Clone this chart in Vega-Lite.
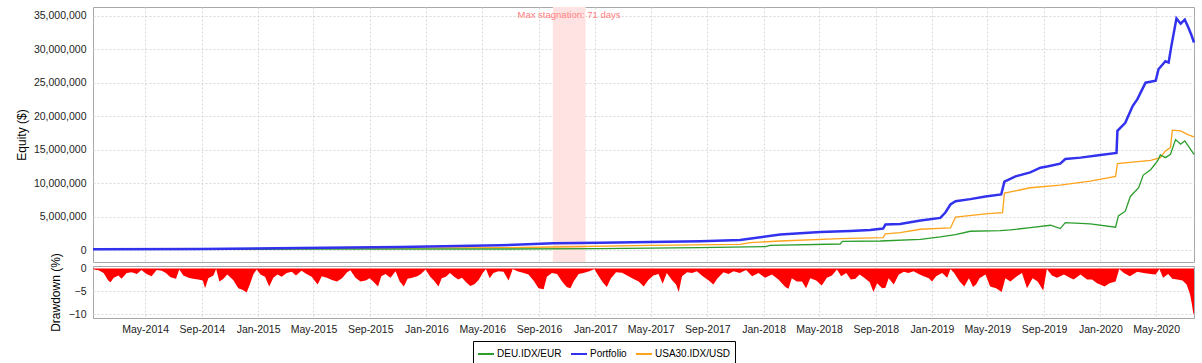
{
"$schema": "https://vega.github.io/schema/vega-lite/v6.json",
"padding": {"left": 14, "top": 6, "right": 8, "bottom": 2},
"bounds": "flush",
"spacing": 4,
"background": "white",
"config": {
 "font": "Liberation Sans",
 "view": {"stroke": "#a8a8a8", "strokeWidth": 1},
 "axis": {"labelFont": "Liberation Sans", "labelFontSize": 10.5, "labelColor": "#222222", "titleFont": "Liberation Sans", "titleFontSize": 12, "titleFontWeight": "normal", "titleColor": "#000000", "gridColor": "#d8d8d8", "gridDash": [2, 2], "domain": false, "ticks": false},
 "legend": {"orient": "none", "legendX": 380, "legendY": 334, "direction": "horizontal", "strokeColor": "#000000", "padding": 4, "symbolType": "stroke", "symbolSize": 256, "symbolStrokeWidth": 2, "labelFont": "Liberation Sans", "labelFontSize": 10, "labelColor": "#000000", "columnPadding": 5, "labelOffset": 2}
},
"datasets": {
 "stag": [{"start": "2016-10-01", "end": "2016-12-11", "mid": "2016-11-05", "label": "Max stagnation: 71 days"}],
 "equity": [
  {"date":"2014-01-08","series":"Portfolio","equity":100000},
  {"date":"2014-08-28","series":"Portfolio","equity":150000},
  {"date":"2015-04-02","series":"Portfolio","equity":300000},
  {"date":"2015-11-05","series":"Portfolio","equity":450000},
  {"date":"2016-06-09","series":"Portfolio","equity":700000},
  {"date":"2016-10-02","series":"Portfolio","equity":1000000},
  {"date":"2017-01-12","series":"Portfolio","equity":1100000},
  {"date":"2017-04-30","series":"Portfolio","equity":1200000},
  {"date":"2017-08-17","series":"Portfolio","equity":1300000},
  {"date":"2017-11-11","series":"Portfolio","equity":1500000},
  {"date":"2017-12-25","series":"Portfolio","equity":1900000},
  {"date":"2018-02-06","series":"Portfolio","equity":2300000},
  {"date":"2018-03-21","series":"Portfolio","equity":2500000},
  {"date":"2018-05-04","series":"Portfolio","equity":2700000},
  {"date":"2018-07-08","series":"Portfolio","equity":2850000},
  {"date":"2018-08-20","series":"Portfolio","equity":3000000},
  {"date":"2018-09-17","series":"Portfolio","equity":3200000},
  {"date":"2018-09-22","series":"Portfolio","equity":3800000},
  {"date":"2018-10-24","series":"Portfolio","equity":3900000},
  {"date":"2018-12-07","series":"Portfolio","equity":4400000},
  {"date":"2019-01-19","series":"Portfolio","equity":4800000},
  {"date":"2019-01-30","series":"Portfolio","equity":5600000},
  {"date":"2019-02-10","series":"Portfolio","equity":6800000},
  {"date":"2019-02-21","series":"Portfolio","equity":7300000},
  {"date":"2019-03-25","series":"Portfolio","equity":7600000},
  {"date":"2019-04-27","series":"Portfolio","equity":8000000},
  {"date":"2019-05-31","series":"Portfolio","equity":8300000},
  {"date":"2019-06-07","series":"Portfolio","equity":10200000},
  {"date":"2019-07-01","series":"Portfolio","equity":11000000},
  {"date":"2019-08-02","series":"Portfolio","equity":11600000},
  {"date":"2019-08-24","series":"Portfolio","equity":12300000},
  {"date":"2019-09-10","series":"Portfolio","equity":12500000},
  {"date":"2019-10-06","series":"Portfolio","equity":12900000},
  {"date":"2019-10-17","series":"Portfolio","equity":13600000},
  {"date":"2019-11-19","series":"Portfolio","equity":13800000},
  {"date":"2020-01-01","series":"Portfolio","equity":14200000},
  {"date":"2020-02-05","series":"Portfolio","equity":14500000},
  {"date":"2020-02-07","series":"Portfolio","equity":17800000},
  {"date":"2020-02-24","series":"Portfolio","equity":19000000},
  {"date":"2020-03-11","series":"Portfolio","equity":21500000},
  {"date":"2020-03-21","series":"Portfolio","equity":22500000},
  {"date":"2020-04-08","series":"Portfolio","equity":25000000},
  {"date":"2020-04-30","series":"Portfolio","equity":25300000},
  {"date":"2020-05-06","series":"Portfolio","equity":27000000},
  {"date":"2020-05-21","series":"Portfolio","equity":28200000},
  {"date":"2020-05-28","series":"Portfolio","equity":28000000},
  {"date":"2020-06-03","series":"Portfolio","equity":30500000},
  {"date":"2020-06-14","series":"Portfolio","equity":34600000},
  {"date":"2020-06-23","series":"Portfolio","equity":33800000},
  {"date":"2020-07-02","series":"Portfolio","equity":34400000},
  {"date":"2020-07-10","series":"Portfolio","equity":33200000},
  {"date":"2020-07-17","series":"Portfolio","equity":32000000},
  {"date":"2020-07-22","series":"Portfolio","equity":31000000},
  {"date":"2014-01-08","series":"USA30.IDX/USD","equity":100000},
  {"date":"2015-04-02","series":"USA30.IDX/USD","equity":200000},
  {"date":"2016-06-09","series":"USA30.IDX/USD","equity":350000},
  {"date":"2016-10-02","series":"USA30.IDX/USD","equity":450000},
  {"date":"2017-04-30","series":"USA30.IDX/USD","equity":700000},
  {"date":"2017-11-11","series":"USA30.IDX/USD","equity":850000},
  {"date":"2017-12-03","series":"USA30.IDX/USD","equity":1100000},
  {"date":"2018-02-06","series":"USA30.IDX/USD","equity":1350000},
  {"date":"2018-06-16","series":"USA30.IDX/USD","equity":1700000},
  {"date":"2018-09-17","series":"USA30.IDX/USD","equity":1850000},
  {"date":"2018-09-22","series":"USA30.IDX/USD","equity":2400000},
  {"date":"2018-10-24","series":"USA30.IDX/USD","equity":2600000},
  {"date":"2018-12-07","series":"USA30.IDX/USD","equity":3100000},
  {"date":"2019-02-10","series":"USA30.IDX/USD","equity":3300000},
  {"date":"2019-02-21","series":"USA30.IDX/USD","equity":4900000},
  {"date":"2019-04-27","series":"USA30.IDX/USD","equity":5400000},
  {"date":"2019-06-03","series":"USA30.IDX/USD","equity":5600000},
  {"date":"2019-06-07","series":"USA30.IDX/USD","equity":8500000},
  {"date":"2019-08-02","series":"USA30.IDX/USD","equity":9300000},
  {"date":"2019-10-06","series":"USA30.IDX/USD","equity":9700000},
  {"date":"2019-12-10","series":"USA30.IDX/USD","equity":10300000},
  {"date":"2020-02-03","series":"USA30.IDX/USD","equity":11000000},
  {"date":"2020-02-07","series":"USA30.IDX/USD","equity":12900000},
  {"date":"2020-04-19","series":"USA30.IDX/USD","equity":13400000},
  {"date":"2020-05-10","series":"USA30.IDX/USD","equity":13800000},
  {"date":"2020-05-21","series":"USA30.IDX/USD","equity":14800000},
  {"date":"2020-06-01","series":"USA30.IDX/USD","equity":15300000},
  {"date":"2020-06-05","series":"USA30.IDX/USD","equity":17900000},
  {"date":"2020-06-23","series":"USA30.IDX/USD","equity":17800000},
  {"date":"2020-07-10","series":"USA30.IDX/USD","equity":17200000},
  {"date":"2020-07-22","series":"USA30.IDX/USD","equity":16900000},
  {"date":"2014-01-08","series":"DEU.IDX/EUR","equity":100000},
  {"date":"2015-04-02","series":"DEU.IDX/EUR","equity":120000},
  {"date":"2016-06-09","series":"DEU.IDX/EUR","equity":150000},
  {"date":"2017-01-12","series":"DEU.IDX/EUR","equity":200000},
  {"date":"2017-08-17","series":"DEU.IDX/EUR","equity":350000},
  {"date":"2018-01-05","series":"DEU.IDX/EUR","equity":500000},
  {"date":"2018-01-15","series":"DEU.IDX/EUR","equity":700000},
  {"date":"2018-06-16","series":"DEU.IDX/EUR","equity":900000},
  {"date":"2018-06-21","series":"DEU.IDX/EUR","equity":1300000},
  {"date":"2018-09-11","series":"DEU.IDX/EUR","equity":1350000},
  {"date":"2018-12-07","series":"DEU.IDX/EUR","equity":1600000},
  {"date":"2019-01-19","series":"DEU.IDX/EUR","equity":1950000},
  {"date":"2019-02-21","series":"DEU.IDX/EUR","equity":2300000},
  {"date":"2019-03-25","series":"DEU.IDX/EUR","equity":2800000},
  {"date":"2019-05-29","series":"DEU.IDX/EUR","equity":2900000},
  {"date":"2019-06-20","series":"DEU.IDX/EUR","equity":3000000},
  {"date":"2019-08-02","series":"DEU.IDX/EUR","equity":3350000},
  {"date":"2019-09-15","series":"DEU.IDX/EUR","equity":3700000},
  {"date":"2019-10-06","series":"DEU.IDX/EUR","equity":3200000},
  {"date":"2019-10-17","series":"DEU.IDX/EUR","equity":4100000},
  {"date":"2019-12-10","series":"DEU.IDX/EUR","equity":3900000},
  {"date":"2020-02-03","series":"DEU.IDX/EUR","equity":3400000},
  {"date":"2020-02-09","series":"DEU.IDX/EUR","equity":5100000},
  {"date":"2020-02-24","series":"DEU.IDX/EUR","equity":5800000},
  {"date":"2020-03-06","series":"DEU.IDX/EUR","equity":8000000},
  {"date":"2020-03-24","series":"DEU.IDX/EUR","equity":9300000},
  {"date":"2020-04-03","series":"DEU.IDX/EUR","equity":11200000},
  {"date":"2020-04-19","series":"DEU.IDX/EUR","equity":12000000},
  {"date":"2020-05-04","series":"DEU.IDX/EUR","equity":13300000},
  {"date":"2020-05-10","series":"DEU.IDX/EUR","equity":14200000},
  {"date":"2020-05-21","series":"DEU.IDX/EUR","equity":13800000},
  {"date":"2020-06-01","series":"DEU.IDX/EUR","equity":14300000},
  {"date":"2020-06-12","series":"DEU.IDX/EUR","equity":16500000},
  {"date":"2020-06-23","series":"DEU.IDX/EUR","equity":15800000},
  {"date":"2020-07-02","series":"DEU.IDX/EUR","equity":16300000},
  {"date":"2020-07-15","series":"DEU.IDX/EUR","equity":15000000},
  {"date":"2020-07-22","series":"DEU.IDX/EUR","equity":14300000}
 ],
 "dd": [
  {"date":"2014-01-08","dd":0},{"date":"2014-01-10","dd":-0.2},{"date":"2014-01-20","dd":-0.4},{"date":"2014-01-31","dd":-1.0},
  {"date":"2014-02-10","dd":-2.6},{"date":"2014-02-15","dd":-3.0},{"date":"2014-02-22","dd":-2.0},{"date":"2014-03-04","dd":-1.5},
  {"date":"2014-03-11","dd":-2.2},{"date":"2014-03-22","dd":-1.0},{"date":"2014-04-02","dd":-0.8},{"date":"2014-04-13","dd":-1.2},
  {"date":"2014-04-23","dd":-0.3},{"date":"2014-05-04","dd":-1.2},{"date":"2014-05-15","dd":-1.7},{"date":"2014-05-26","dd":-0.3},
  {"date":"2014-06-06","dd":-0.5},{"date":"2014-06-15","dd":-1.0},{"date":"2014-06-25","dd":-1.9},{"date":"2014-07-07","dd":-2.2},
  {"date":"2014-07-14","dd":-0.2},{"date":"2014-07-23","dd":-1.5},{"date":"2014-08-03","dd":-2.0},{"date":"2014-08-13","dd":-2.2},
  {"date":"2014-08-24","dd":-2.4},{"date":"2014-09-03","dd":-2.6},{"date":"2014-09-08","dd":-4.3},{"date":"2014-09-15","dd":-2.1},
  {"date":"2014-09-26","dd":-1.5},{"date":"2014-10-02","dd":-0.1},{"date":"2014-10-09","dd":-2.8},{"date":"2014-10-18","dd":-2.2},
  {"date":"2014-10-26","dd":-1.3},{"date":"2014-11-08","dd":-2.5},{"date":"2014-11-19","dd":-4.3},{"date":"2014-11-28","dd":-4.6},
  {"date":"2014-12-07","dd":-5.2},{"date":"2014-12-14","dd":-3.5},{"date":"2014-12-22","dd":-1.2},{"date":"2014-12-29","dd":-0.2},
  {"date":"2015-01-06","dd":-1.3},{"date":"2015-01-16","dd":-1.8},{"date":"2015-01-25","dd":-3.9},{"date":"2015-02-03","dd":-2.0},
  {"date":"2015-02-12","dd":-1.3},{"date":"2015-02-21","dd":-1.8},{"date":"2015-03-04","dd":-1.0},{"date":"2015-03-15","dd":-0.7},
  {"date":"2015-03-24","dd":-1.5},{"date":"2015-04-05","dd":-0.5},{"date":"2015-04-16","dd":-1.2},{"date":"2015-04-27","dd":-1.8},
  {"date":"2015-05-10","dd":-3.5},{"date":"2015-05-19","dd":-1.7},{"date":"2015-05-30","dd":-2.0},{"date":"2015-06-10","dd":-2.5},
  {"date":"2015-06-21","dd":-2.8},{"date":"2015-07-02","dd":-2.1},{"date":"2015-07-13","dd":-0.8},{"date":"2015-07-20","dd":-0.4},
  {"date":"2015-07-31","dd":-2.0},{"date":"2015-08-11","dd":-2.8},{"date":"2015-08-22","dd":-2.6},{"date":"2015-08-31","dd":-2.1},
  {"date":"2015-09-09","dd":-3.0},{"date":"2015-09-18","dd":-3.9},{"date":"2015-09-25","dd":-1.7},{"date":"2015-10-04","dd":-1.2},
  {"date":"2015-10-15","dd":-2.0},{"date":"2015-10-26","dd":-0.6},{"date":"2015-11-04","dd":-2.8},{"date":"2015-11-13","dd":-3.9},
  {"date":"2015-11-21","dd":-2.2},{"date":"2015-12-01","dd":-2.0},{"date":"2015-12-12","dd":-1.7},{"date":"2015-12-20","dd":-1.2},
  {"date":"2015-12-30","dd":-0.2},{"date":"2016-01-09","dd":-1.8},{"date":"2016-01-17","dd":-2.6},{"date":"2016-01-27","dd":-3.9},
  {"date":"2016-02-03","dd":-2.1},{"date":"2016-02-12","dd":-1.8},{"date":"2016-02-21","dd":-1.0},{"date":"2016-03-01","dd":-1.8},
  {"date":"2016-03-10","dd":-2.4},{"date":"2016-03-18","dd":-2.0},{"date":"2016-03-27","dd":-3.0},{"date":"2016-04-05","dd":-3.8},
  {"date":"2016-04-14","dd":-3.4},{"date":"2016-04-23","dd":-2.5},{"date":"2016-05-02","dd":-1.0},{"date":"2016-05-09","dd":-0.1},
  {"date":"2016-05-17","dd":-2.1},{"date":"2016-05-25","dd":-1.0},{"date":"2016-06-05","dd":-0.6},{"date":"2016-06-16","dd":-0.7},
  {"date":"2016-06-27","dd":-2.6},{"date":"2016-07-06","dd":-0.1},{"date":"2016-07-16","dd":-0.6},{"date":"2016-07-28","dd":-0.9},
  {"date":"2016-08-09","dd":-1.3},{"date":"2016-08-20","dd":-2.6},{"date":"2016-08-31","dd":-4.3},{"date":"2016-09-11","dd":-4.5},
  {"date":"2016-09-18","dd":-1.8},{"date":"2016-09-29","dd":-1.0},{"date":"2016-10-10","dd":-1.2},{"date":"2016-10-21","dd":-2.8},
  {"date":"2016-10-31","dd":-4.0},{"date":"2016-11-08","dd":-4.3},{"date":"2016-11-15","dd":-2.8},{"date":"2016-11-26","dd":-1.2},
  {"date":"2016-12-06","dd":-1.0},{"date":"2016-12-19","dd":-0.6},{"date":"2016-12-30","dd":-0.1},{"date":"2017-01-06","dd":-1.3},
  {"date":"2017-01-17","dd":-3.0},{"date":"2017-01-26","dd":-4.0},{"date":"2017-02-04","dd":-2.1},{"date":"2017-02-15","dd":-0.8},
  {"date":"2017-02-28","dd":-0.9},{"date":"2017-03-14","dd":-1.7},{"date":"2017-03-25","dd":-2.3},{"date":"2017-04-05","dd":-2.8},
  {"date":"2017-04-16","dd":-3.9},{"date":"2017-04-26","dd":-2.5},{"date":"2017-05-07","dd":-1.5},{"date":"2017-05-18","dd":-1.2},
  {"date":"2017-05-27","dd":-3.3},{"date":"2017-06-05","dd":-1.0},{"date":"2017-06-16","dd":-2.5},{"date":"2017-06-25","dd":-3.5},
  {"date":"2017-07-01","dd":-5.1},{"date":"2017-07-08","dd":-1.7},{"date":"2017-07-19","dd":-0.8},{"date":"2017-07-30","dd":-1.0},
  {"date":"2017-08-09","dd":-0.6},{"date":"2017-08-22","dd":-1.7},{"date":"2017-09-04","dd":-2.6},{"date":"2017-09-14","dd":-3.5},
  {"date":"2017-09-23","dd":-2.1},{"date":"2017-10-06","dd":-0.8},{"date":"2017-10-17","dd":-1.2},{"date":"2017-10-28","dd":-0.6},
  {"date":"2017-11-10","dd":-1.0},{"date":"2017-11-24","dd":-0.3},{"date":"2017-12-07","dd":-1.7},{"date":"2017-12-21","dd":-1.0},
  {"date":"2018-01-04","dd":-2.0},{"date":"2018-01-19","dd":-1.3},{"date":"2018-02-02","dd":-2.4},{"date":"2018-02-17","dd":-4.0},
  {"date":"2018-02-24","dd":-4.4},{"date":"2018-03-03","dd":-2.1},{"date":"2018-03-14","dd":-2.8},{"date":"2018-03-25","dd":-2.8},
  {"date":"2018-04-03","dd":-4.3},{"date":"2018-04-12","dd":-2.1},{"date":"2018-04-25","dd":-2.6},{"date":"2018-05-07","dd":-3.7},
  {"date":"2018-05-18","dd":-2.0},{"date":"2018-05-29","dd":-1.5},{"date":"2018-06-09","dd":-0.2},{"date":"2018-06-18","dd":-1.7},
  {"date":"2018-06-29","dd":-1.0},{"date":"2018-07-09","dd":-2.4},{"date":"2018-07-19","dd":-2.2},{"date":"2018-07-28","dd":-1.3},
  {"date":"2018-08-07","dd":-2.0},{"date":"2018-08-19","dd":-3.0},{"date":"2018-08-27","dd":-5.1},{"date":"2018-09-04","dd":-3.2},
  {"date":"2018-09-15","dd":-4.3},{"date":"2018-09-22","dd":-4.2},{"date":"2018-09-29","dd":-2.1},{"date":"2018-10-10","dd":-3.5},
  {"date":"2018-10-21","dd":-1.3},{"date":"2018-11-01","dd":-0.7},{"date":"2018-11-11","dd":-1.0},{"date":"2018-11-22","dd":-0.6},
  {"date":"2018-12-03","dd":-1.2},{"date":"2018-12-14","dd":-1.7},{"date":"2018-12-25","dd":-2.1},{"date":"2019-01-01","dd":-2.8},
  {"date":"2019-01-10","dd":-1.7},{"date":"2019-01-23","dd":-1.0},{"date":"2019-02-03","dd":-2.0},{"date":"2019-02-10","dd":-0.1},
  {"date":"2019-02-18","dd":-1.0},{"date":"2019-03-02","dd":-2.8},{"date":"2019-03-12","dd":-3.9},{"date":"2019-03-22","dd":-2.1},
  {"date":"2019-03-31","dd":-4.0},{"date":"2019-04-07","dd":-3.4},{"date":"2019-04-14","dd":-2.1},{"date":"2019-04-27","dd":-1.3},
  {"date":"2019-05-07","dd":-3.9},{"date":"2019-05-20","dd":-4.3},{"date":"2019-06-01","dd":-5.1},{"date":"2019-06-09","dd":-2.1},
  {"date":"2019-06-20","dd":-2.8},{"date":"2019-07-04","dd":-1.7},{"date":"2019-07-15","dd":-1.0},{"date":"2019-07-26","dd":-4.3},
  {"date":"2019-08-07","dd":-2.1},{"date":"2019-08-18","dd":-2.8},{"date":"2019-08-30","dd":-4.8},{"date":"2019-09-07","dd":-0.1},
  {"date":"2019-09-18","dd":-1.5},{"date":"2019-09-29","dd":-2.0},{"date":"2019-10-14","dd":-1.3},{"date":"2019-10-27","dd":-2.0},
  {"date":"2019-11-04","dd":-2.4},{"date":"2019-11-19","dd":-1.3},{"date":"2019-12-03","dd":-2.4},{"date":"2019-12-14","dd":-2.4},
  {"date":"2019-12-25","dd":-3.2},{"date":"2020-01-10","dd":-3.9},{"date":"2020-01-21","dd":-3.2},{"date":"2020-02-03","dd":-2.8},
  {"date":"2020-02-11","dd":-0.1},{"date":"2020-02-21","dd":-1.0},{"date":"2020-03-05","dd":-1.7},{"date":"2020-03-21","dd":-0.7},
  {"date":"2020-04-04","dd":-1.0},{"date":"2020-04-19","dd":-1.2},{"date":"2020-04-30","dd":-1.3},{"date":"2020-05-08","dd":-0.1},
  {"date":"2020-05-16","dd":-2.0},{"date":"2020-05-27","dd":-1.2},{"date":"2020-06-05","dd":-2.2},{"date":"2020-06-16","dd":-2.4},
  {"date":"2020-06-27","dd":-2.6},{"date":"2020-07-06","dd":-3.5},{"date":"2020-07-13","dd":-5.5},{"date":"2020-07-17","dd":-7.5},
  {"date":"2020-07-20","dd":-9.5},{"date":"2020-07-22","dd":-10.1}
 ]
},
"vconcat": [
 {
  "width": 1101,
  "height": 255,
  "layer": [
   {
    "data": {"name": "stag"},
    "mark": {"type": "rect", "color": "#ffe3e3", "opacity": 1},
    "encoding": {
     "x": {"field": "start", "type": "temporal", "scale": {"domain": [{"year": 2014, "month": 1, "date": 8}, {"year": 2020, "month": 7, "date": 22}], "nice": false}, "axis": {"title": null, "labels": false, "grid": true, "tickCount": {"interval": "month", "step": 4}}},
     "x2": {"field": "end"}
    }
   },
   {
    "data": {"name": "stag"},
    "mark": {"type": "text", "color": "#ff8080", "font": "Liberation Sans", "fontSize": 9.5, "baseline": "middle", "align": "center"},
    "encoding": {
     "x": {"field": "mid", "type": "temporal"},
     "y": {"datum": 35100000, "type": "quantitative", "scale": {"domain": [-1790000, 36300000], "nice": false, "zero": false}, "axis": {"title": "Equity ($)", "values": [0, 5000000, 10000000, 15000000, 20000000, 25000000, 30000000, 35000000], "labelExpr": "format(datum.value, ',.0f')", "grid": true, "labelPadding": 7, "titlePadding": 5}},
     "text": {"field": "label"}
    }
   },
   {
    "data": {"name": "equity"},
    "transform": [{"filter": "datum.series != 'Portfolio'"}],
    "mark": {"type": "line", "strokeWidth": 1.3},
    "encoding": {
     "x": {"field": "date", "type": "temporal"},
     "y": {"field": "equity", "type": "quantitative", "scale": {"domain": [-1790000, 36300000], "nice": false, "zero": false}, "axis": {"title": "Equity ($)", "values": [0, 5000000, 10000000, 15000000, 20000000, 25000000, 30000000, 35000000], "labelExpr": "format(datum.value, ',.0f')", "grid": true, "labelPadding": 7, "titlePadding": 5}},
     "color": {"field": "series", "type": "nominal", "scale": {"domain": ["DEU.IDX/EUR", "Portfolio", "USA30.IDX/USD"], "range": ["#2a9d2a", "#3232ee", "#ffa31a"]}, "legend": {"title": null}}
    }
   },
   {
    "data": {"name": "equity"},
    "transform": [{"filter": "datum.series == 'Portfolio'"}],
    "mark": {"type": "line", "strokeWidth": 2.5},
    "encoding": {
     "x": {"field": "date", "type": "temporal"},
     "y": {"field": "equity", "type": "quantitative", "scale": {"domain": [-1790000, 36300000], "nice": false, "zero": false}, "axis": {"title": "Equity ($)", "values": [0, 5000000, 10000000, 15000000, 20000000, 25000000, 30000000, 35000000], "labelExpr": "format(datum.value, ',.0f')", "grid": true, "labelPadding": 7, "titlePadding": 5}},
     "color": {"field": "series", "type": "nominal"}
    }
   }
  ]
 },
 {
  "width": 1101,
  "height": 52,
  "data": {"name": "dd"},
  "mark": {"type": "area", "color": "#ff0000", "opacity": 1},
  "encoding": {
   "x": {"field": "date", "type": "temporal", "scale": {"domain": [{"year": 2014, "month": 1, "date": 8}, {"year": 2020, "month": 7, "date": 22}], "nice": false}, "axis": {"title": null, "format": "%b-%Y", "tickCount": {"interval": "month", "step": 4}, "grid": true, "labelPadding": 6, "labelFlush": false}},
   "y": {"field": "dd", "type": "quantitative", "stack": null, "scale": {"domain": [-10.77, 0.55], "nice": false, "zero": false}, "axis": {"title": "Drawdown (%)", "values": [0, -5, -10], "format": "d", "grid": true, "labelPadding": 7, "titlePadding": 6}},
   "y2": {"datum": 0}
  }
 }
]
}
